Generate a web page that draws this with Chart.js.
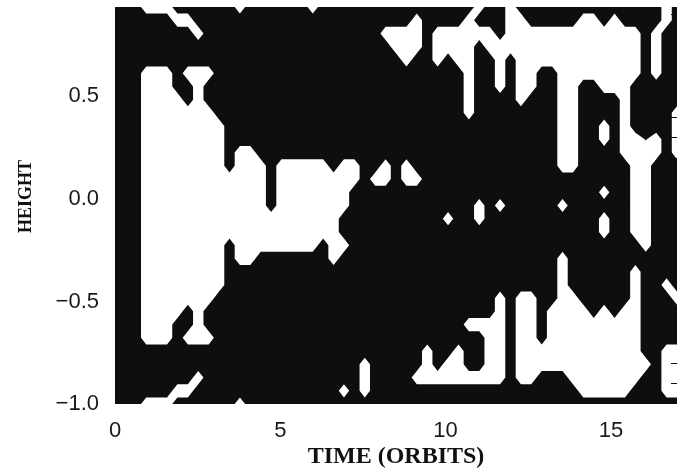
<!DOCTYPE html>
<html>
<head>
<meta charset="utf-8">
<script src="https://cdn.jsdelivr.net/npm/chart.js@4.4.0/dist/chart.umd.min.js"></script>
<style>
  html, body { margin: 0; padding: 0; background: #ffffff; }
  #wrap { width: 693px; height: 471px; }
</style>
</head>
<body>
<div id="wrap"><canvas id="c" width="693" height="471"></canvas></div>
<script>
// Sampling of the time axis (orbits) and of the height axis.
const TIME_MIN = 0;
const TIME_MAX = 17;
const TIME_SAMPLES = 55;
const HEIGHT_MIN = -1;
const HEIGHT_STEP = 2 / 31;
const HEIGHT_SAMPLES = 31;

const xTickValues = [0, 5, 10, 15];
const yTickValues = [-1, -0.5, 0, 0.5];
const rightMinorTicks = [-0.9, -0.8, -0.7, -0.6, -0.4, -0.3, -0.2, -0.1, 0.1, 0.2, 0.3, 0.4, 0.6, 0.7, 0.8, 0.9];
const xTitle = 'TIME (ORBITS)';
const yTitle = '\u00a0\u00a0\u00a0\u00a0HEIGHT';

// Sign of the field on the sample grid, highest height first, 55 time samples per row
// (spaces only group the samples by five).
// '.' = positive (white), '#' = negative (black), digits 1-8 = weak values near zero.
const fieldRows = [
  "###.. .#### ##.## ####. ##### ##### ##### .##.# ##### ##### ###.#",
  "##### #..## ##### ##### ##### ####. ####. ###.. ##### ..#.# ###.#",
  "##### ###.# ##### ##### ##### #.... #.... ..#.. ..... ..... .#.##",
  "##### ##### ##### ##### ##### ##... #.... #.... ..... ..... .#.##",
  "##### ##### ##### ##### ##### ###.# #.#.. ##.#. ..... ..... .#.##",
  "###.. .#... ##### ##### ##### ##### ####. ##.#. .##.. ..... .#.##",
  "###.. .##.# ##### ##### ##### ##### ####. ##.#. .##.. ##... #####",
  "###.. ..#.# ##### ##### ##### ##### ####. ####. ###.. ####. #####",
  "###.. ..... ##### ##### ##### ##### ####. ##### ###.. ####. ####.",
  "###.. ..... .#### ##### ##### ##### ##### ##### ###.. ##.#. ####.",
  "###.. ..... .#### ##### ##### ##### ##### ##### ###.. ##.#. .4.#.",
  "###.. ..... .#..# ##### ##### ##### ##### ##### ###.. ####. ...#.",
  "###.. ..... .#... #.... .#..# #.#.# ##### ##### ###.. ##### ..###",
  "###.. ..... ..... #.... ....# ..#.. ##### ##### ##### ##### ..###",
  "###.. ..... ..... #.... ...## ##### ##### ##### ##### ##.## ..###",
  "###.. ..... ..... #.... ...## ##### ##### .#.## ###.# ##### ..###",
  "###.. ..... ..... ..... ..### ##### ##.## .#### ##### ##.## ..###",
  "###.. ..... ..... ..... ..### ##### ##### ##### ##### ##.## ..###",
  "###.. ..... .#... ..... #..## ##### ##### ##### ##### ##### #.###",
  "###.. ..... .#..# ##### #.### ##### ##### ##### ###.# ##### #####",
  "###.. ..... .#### ##### ##### ##### ##### ##### ###.# ##### .####",
  "###.. ..... .#### ##### ##### ##### ##### ##### ###.# ##### .##.#",
  "###.. ..... ##### ##### ##### ##### ##### ##.#. .##.. ##### .###.",
  "###.. ..#.# ##### ##### ##### ##### ##### ##.#. .#... .#.#. .####",
  "###.. .##.# ##### ##### ##### ##### ####. ...#. .#... ..... .####",
  "###.. .#... ##### ##### ##### ##### ##### #..#. .#... ..... .####",
  "##### ##### ##### ##### ##### ##### .##.# #..#. ..... ..... .##..",
  "##### ##### ##### ##### ####. ##### .#..# #..#. ..... ..... ..#..",
  "##### ###.# ##### ##### ####. ####. ..... ...#. .###. ..... .##..",
  "##### #..## ##### ##### ##.#. ##### ##### ##### ##### ..... ###..",
  "###.. .#### ##.## ##### ##### ##### ##### ##### ##### ##### #####"
];

const timeNodes = Array.from({ length: TIME_SAMPLES },
  (_, i) => TIME_MIN + i * (TIME_MAX - TIME_MIN) / (TIME_SAMPLES - 1));
const heightNodes = Array.from({ length: HEIGHT_SAMPLES },
  (_, r) => HEIGHT_MIN + (HEIGHT_SAMPLES - 1 - r) * HEIGHT_STEP);
const HEIGHT_MAX = HEIGHT_MIN + (HEIGHT_SAMPLES - 1) * HEIGHT_STEP;

function levelOf(ch) {
  if (ch === '.') return 9;
  if (ch >= '0' && ch <= '9') return +ch;
  return 0;
}
const field = fieldRows.map(row => {
  const cells = row.replace(/\s+/g, '');
  const out = [];
  for (let i = 0; i < TIME_SAMPLES; i++) out.push(levelOf(cells[i] || '#'));
  return out;
});
const THRESHOLD = 4.5;
const INK = '#0e0e0e';

// Filled zero-level contour: black background, positive cells in white.
const signContour = {
  id: 'signContour',
  beforeDatasetsDraw(chart) {
    const { ctx, chartArea: a, scales: { x, y } } = chart;
    const px = timeNodes.map(t => x.getPixelForValue(t));
    const py = heightNodes.map(h => y.getPixelForValue(h));
    ctx.save();
    ctx.beginPath();
    ctx.rect(a.left, a.top, a.right - a.left, a.bottom - a.top);
    ctx.clip();
    ctx.fillStyle = INK;
    ctx.fillRect(a.left, a.top, a.right - a.left, a.bottom - a.top);
    ctx.beginPath();
    for (let r = 0; r < HEIGHT_SAMPLES - 1; r++) {
      for (let i = 0; i < TIME_SAMPLES - 1; i++) {
        const corners = [[i, r], [i + 1, r], [i + 1, r + 1], [i, r + 1]];
        const pts = [];
        for (let k = 0; k < 4; k++) {
          const [ia, ra] = corners[k];
          const [ib, rb] = corners[(k + 1) % 4];
          const va = field[ra][ia], vb = field[rb][ib];
          const ina = va > THRESHOLD, inb = vb > THRESHOLD;
          if (ina) pts.push([px[ia], py[ra]]);
          if (ina !== inb) {
            const f = (THRESHOLD - va) / (vb - va);
            pts.push([px[ia] + f * (px[ib] - px[ia]), py[ra] + f * (py[rb] - py[ra])]);
          }
        }
        if (pts.length >= 3) {
          ctx.moveTo(pts[0][0], pts[0][1]);
          for (let k = 1; k < pts.length; k++) ctx.lineTo(pts[k][0], pts[k][1]);
          ctx.closePath();
        }
      }
    }
    ctx.fillStyle = '#ffffff';
    ctx.fill('nonzero');
    ctx.restore();
  },
  afterDatasetsDraw(chart) {
    // Short inward minor ticks on the right-hand frame.
    const { ctx, chartArea: a, scales: { y } } = chart;
    ctx.save();
    ctx.strokeStyle = INK;
    ctx.lineWidth = 1;
    ctx.beginPath();
    rightMinorTicks.forEach(v => {
      const yy = Math.round(y.getPixelForValue(v)) + 0.5;
      ctx.moveTo(a.right - 6, yy);
      ctx.lineTo(a.right, yy);
    });
    ctx.stroke();
    ctx.restore();
  }
};

function fmtHeight(v) {
  const s = Number(v).toFixed(1);
  return s.startsWith('-') ? '\u2212' + s.slice(1) : s;
}

const tickFont = { family: "'Liberation Sans', Arial, sans-serif", size: 22 };
const titleFont = { family: "'Liberation Serif', 'Times New Roman', serif", weight: 'bold' };

new Chart(document.getElementById('c'), {
  type: 'scatter',
  data: { datasets: [{ data: [], pointRadius: 0 }] },
  options: {
    responsive: false,
    animation: false,
    devicePixelRatio: 1,
    layout: { padding: { left: 0, top: 7, right: 16, bottom: 0 } },
    plugins: { legend: { display: false }, tooltip: { enabled: false } },
    scales: {
      x: {
        type: 'linear', min: TIME_MIN, max: TIME_MAX,
        afterBuildTicks: s => { s.ticks = xTickValues.map(v => ({ value: v })); },
        afterFit: s => { s.height = 67; s.paddingLeft = 0; s.paddingRight = 0; },
        grid: { display: false },
        border: { display: false },
        ticks: { font: tickFont, color: '#1a1a1a', padding: 6, maxRotation: 0, autoSkip: false,
                 callback: v => String(v) },
        title: { display: true, text: xTitle, color: '#111111',
                 font: Object.assign({ size: 24 }, titleFont), padding: { top: 0, bottom: 0 } }
      },
      y: {
        type: 'linear', min: HEIGHT_MIN, max: HEIGHT_MAX,
        afterBuildTicks: s => { s.ticks = yTickValues.map(v => ({ value: v })); },
        afterFit: s => { s.width = 115; s.paddingTop = 0; s.paddingBottom = 0; },
        grid: { display: false },
        border: { display: false },
        ticks: { font: tickFont, color: '#1a1a1a', padding: 8, autoSkip: false,
                 callback: v => fmtHeight(v) },
        title: { display: true, text: yTitle, color: '#111111',
                 font: Object.assign({ size: 18 }, titleFont), padding: { top: 16, bottom: 0 } }
      }
    }
  },
  plugins: [signContour]
});
</script>
</body>
</html>
